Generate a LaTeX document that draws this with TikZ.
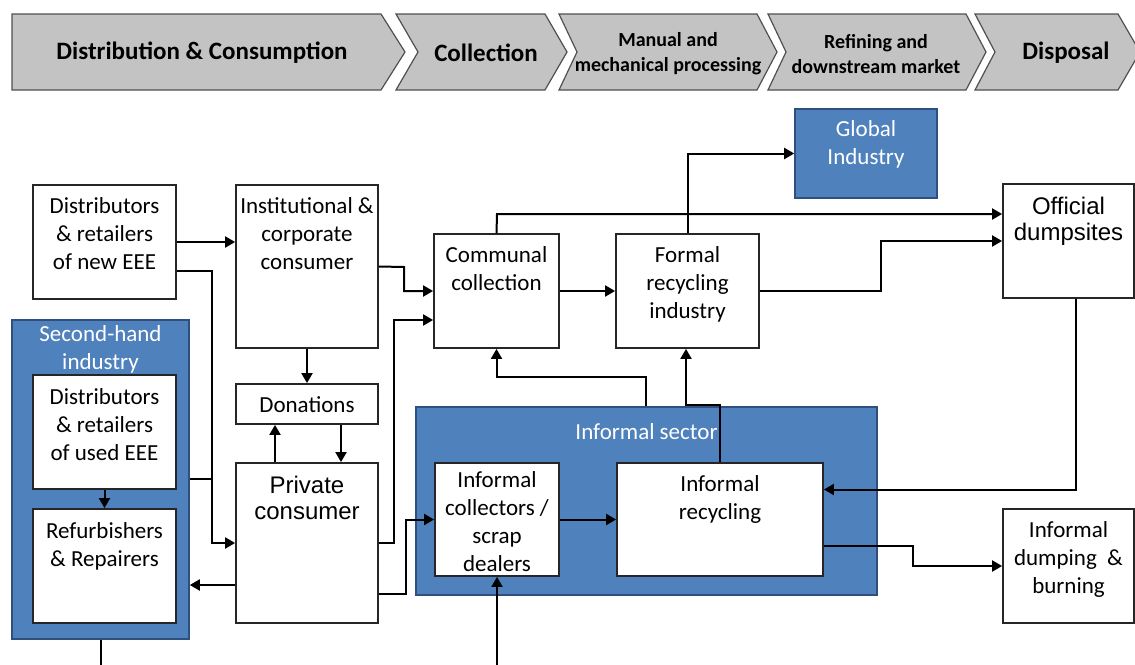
\documentclass[tikz,border=0pt]{standalone}
\usepackage{fontspec}
\setmainfont{Carlito}
\newfontfamily\arialfont{Liberation Sans}
\usepackage{tikz}
\usetikzlibrary{arrows.meta,positioning,fit,calc}
\definecolor{secblue}{HTML}{4F81BD}
\definecolor{secedge}{HTML}{2F4F7F}
\definecolor{stagegray}{HTML}{C3C3C3}
\definecolor{stageedge}{HTML}{505050}
\tikzstyle{box} = [draw=black!85,fill=white,line width=0.9pt,inner sep=0pt]
\tikzstyle{sector} = [draw=secedge,fill=secblue,line width=0.8pt,inner sep=0pt]
\tikzstyle{txt} = [align=center,inner sep=0pt,font=\fontsize{11.5}{14}\selectfont]
\tikzstyle{atxt} = [align=center,inner sep=0pt,font=\arialfont\fontsize{12}{13}\selectfont]
\tikzstyle{sectitle} = [txt,text=white]
\tikzstyle{stage} = [draw=stageedge,fill=stagegray,line width=0.6pt]
\tikzstyle{stagetext} = [align=center,inner sep=0pt,font=\bfseries\fontsize{12.5}{15}\selectfont]
\tikzstyle{substage} = [align=center,inner sep=0pt,font=\bfseries\fontsize{10}{12.5}\selectfont]
\tikzstyle{wire} = [line width=1pt]
\tikzstyle{flow} = [wire,->]
\tikzset{>={Triangle[length=5pt,width=5.5pt]}}

\begin{document}
\begin{tikzpicture}[x=0.5pt,y=-0.5pt]
  \useasboundingbox (0,0) rectangle (1135,664);
  \clip (0,0) rectangle (1135,664);
  % value chain stages
  \draw [stage] (12,14) -- (381,14) -- (405,52) -- (381,90) -- (12,90) -- cycle;
  \draw [stage] (396,14) -- (545,14) -- (567,52) -- (545,90) -- (396,90) -- (418,52) -- cycle;
  \draw [stage] (559,14) -- (757,14) -- (777,52) -- (757,90) -- (559,90) -- (577,52) -- cycle;
  \draw [stage] (768,14) -- (966,14) -- (986,52) -- (966,90) -- (768,90) -- (786,52) -- cycle;
  \draw [stage] (975,14) -- (1118,14) -- (1140,52) -- (1118,90) -- (975,90) -- (995,52) -- cycle;
  \node [stagetext] (dist) at (202,53) {Distribution \& Consumption};
  \node [stagetext] (collect) at (486,53) {Collection};
  \node [substage] (mech) at (668,54) {Manual and\\mechanical processing};
  \node [substage] (refine) at (876,54) {Refining and\\downstream market};
  \node [stagetext] (disp) at (1066,53) {Disposal};

  % distribution and consumption
  \node [box,fit={(33,185) (176,299)}] (newEEE) {};
  \node [txt,below=6.5pt of newEEE.north] (newEEE-t) {Distributors\\\& retailers\\of new EEE};
  \node [sector,fit={(12,320) (189,639)}] (shand) {};
  \node [sectitle,below=3pt of shand.north] (shand-t) {Second-hand\\industry};
  \node [box,fit={(33,375) (176,489)}] (used) {};
  \node [txt,below=7pt of used.north] (used-t) {Distributors\\\& retailers\\of used EEE};
  \node [box,fit={(33,509) (176,623)}] (refurb) {};
  \node [txt,below=7pt of refurb.north] (refurb-t) {Refurbishers\\\& Repairers};
  \node [box,fit={(236,185) (378,348)}] (inst) {};
  \node [txt,below=6.5pt of inst.north] (inst-t) {Institutional \&\\corporate\\consumer};
  \node [box,fit={(236,384) (378,424)}] (don) {};
  \node [txt,below=6.5pt of don.north] (don-t) {Donations};
  \node [box,fit={(236,463) (378,623)}] (private) {};
  \node [atxt,below=7pt of private.north] (private-t) {Private\\consumer};

  % collection and recycling
  \node [box,fit={(434,234) (559,348)}] (comm) {};
  \node [txt,below=6.5pt of comm.north] (comm-t) {Communal\\collection};
  \node [box,fit={(616,234) (759,348)}] (formal) {};
  \node [txt,below=6.5pt of formal.north] (formal-t) {Formal\\recycling\\industry};
  \node [sector,fit={(795,109) (937,198)}] (global) {};
  \node [sectitle,below=6pt of global.north] (global-t) {Global\\Industry};
  \node [sector,fit={(416,407) (877,595)}] (sector) {};
  \node [sectitle,below=8.5pt of sector.north] (sector-t) {Informal sector};
  \node [box,fit={(435,463) (559,576)}] (coll) {};
  \node [txt,below=4.5pt of coll.north] (coll-t) {Informal\\collectors /\\scrap\\dealers};
  \node [box,fit={(617,463) (823,576)}] (recyc) {};
  \node [txt,below=6.5pt of recyc.north] (recyc-t) {Informal\\recycling};

  % disposal
  \node [box,fit={(1003,184) (1134,298)}] (offic) {};
  \node [atxt,below=7pt of offic.north] (offic-t) {Official\\dumpsites};
  \node [box,fit={(1003,509) (1134,623)}] (dump) {};
  \node [txt,below=6.5pt of dump.north] (dump-t) {Informal\\dumping \ \&\\burning};

  % flows
  \coordinate (newsplit) at (212,271);
  \coordinate (usedjoin) at (212,479);
  \coordinate (instturn) at (404,267);
  \coordinate (prvup) at (394,320);
  \coordinate (prvcoll) at (406,594);
  \coordinate (commtop) at (497,214);
  \coordinate (formalturn) at (881,241);
  \coordinate (recycup) at (686,405);
  \coordinate (sectorup) at (646,377);
  \coordinate (recycout) at (913,546);
  \coordinate (collsrc) at (497,670);
  \draw [flow] (newEEE) -- (inst.west |- newEEE);
  \draw [flow] (newEEE.east |- newsplit) -- (newsplit) |- (private);
  \draw [wire] (shand.east |- usedjoin) -- (usedjoin);
  \draw [flow] (inst) -- (don);
  \draw [flow] ($(private.north)+(-32,0)$) -- ($(don.south)+(-32,0)$);
  \draw [flow] ($(don.south)+(34,0)$) -- ($(private.north)+(34,0)$);
  \draw [flow] ($(private.west)+(0,42)$) coordinate (prvref) -- (prvref -| shand.east);
  \draw [wire] (shand.south) -- ++(0,40);
  \draw [flow] (used) -- (refurb);
  \draw [flow] (inst.east) -- (instturn) |- (comm);
  \draw [flow] (private.east) -| (prvup) -- (prvup -| comm.west);
  \draw [flow] (private.east |- prvcoll) -- (prvcoll) |- (coll);
  \draw [flow] (comm) -- (formal);
  \draw [flow] (comm.north) -- (commtop) -- (commtop -| offic.west);
  \draw [flow] (formal.north) |- (global);
  \draw [flow] (formal.east) -| (formalturn) -- (formalturn -| offic.west);
  \draw [flow] (recyc.north) |- (recycup) -- (recycup |- formal.south);
  \draw [flow] (sectorup |- sector.north) -- (sectorup) -| (comm.south);
  \draw [flow] ($(offic.south)+(7,0)$) coordinate (offdown) |- ($(recyc.east)+(0,-30)$);
  \draw [flow] (recyc.east |- recycout) -- (recycout) |- (dump);
  \draw [flow] (collsrc) -- (coll.south);
  \draw [flow] (coll) -- (recyc);
\end{tikzpicture}
\end{document}
